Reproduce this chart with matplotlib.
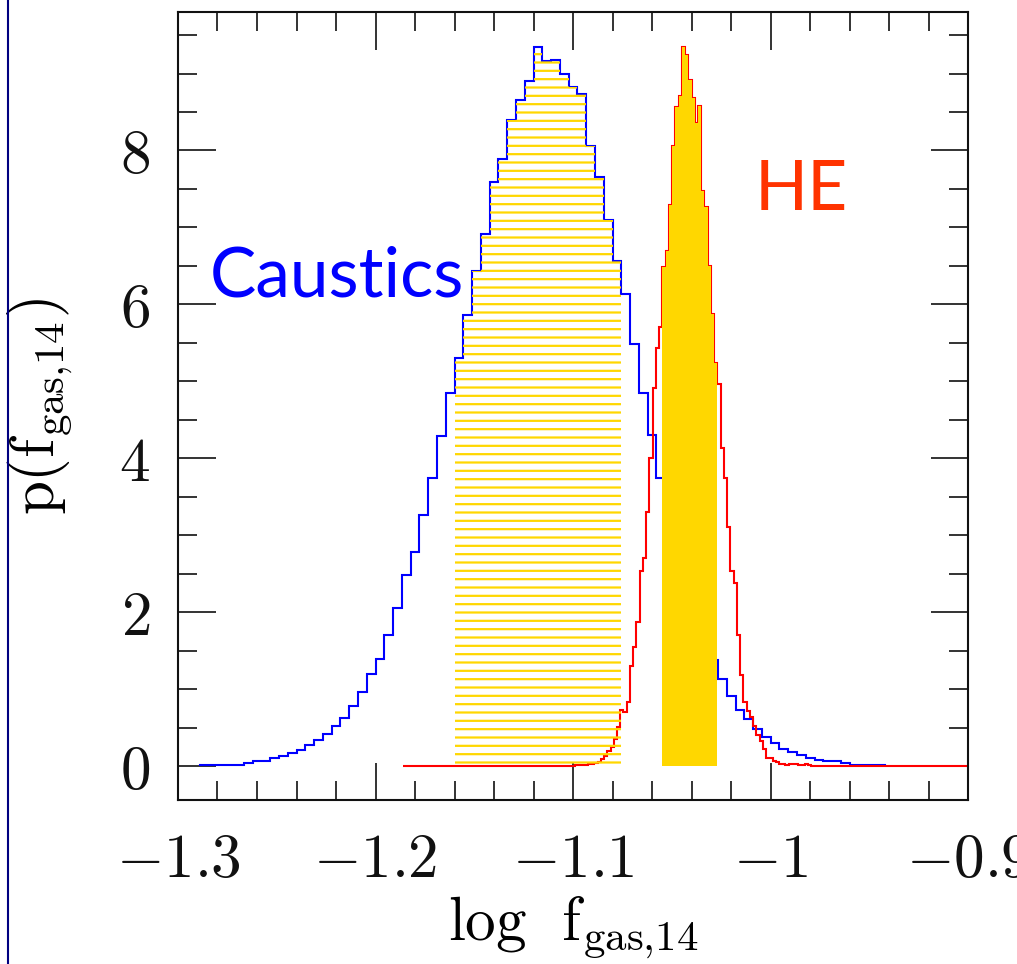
import numpy as np
import matplotlib.pyplot as plt
from matplotlib.ticker import MultipleLocator
from matplotlib.lines import Line2D

plt.rcParams['mathtext.fontset'] = 'cm'
plt.rcParams['hatch.linewidth'] = 1.6

# --- Caustics posterior (blue), equal-width bins ---
caustics_start = -1.28889
caustics_width = 0.0044444
caustics_density = [
    0.02, 0.02, 0.02, 0.02, 0.02, 0.043, 0.065, 0.065, 0.107, 0.129,
    0.17, 0.215, 0.275, 0.34, 0.42, 0.52, 0.63, 0.78, 0.97, 1.20,
    1.39, 1.71, 2.05, 2.48, 2.79, 3.26, 3.75, 4.29, 4.85, 5.30,
    5.86, 6.44, 6.91, 7.59, 7.89, 8.40, 8.66, 8.90, 9.35, 9.16,
    9.18, 8.99, 8.82, 8.74, 8.06, 7.66, 7.10, 6.56, 6.14, 5.48,
    4.85, 4.31, 3.75, 3.25, 2.80, 2.35, 1.95, 1.65, 1.38, 1.135,
    0.91, 0.73, 0.61, 0.49, 0.38, 0.30, 0.23, 0.185, 0.15, 0.107,
    0.086, 0.065, 0.065, 0.043, 0.022, 0.022, 0.022, 0.022,
]
caustics_interval = (-1.1600, -1.0756)

# --- HE posterior (red), equal-width bins ---
he_start = -1.1860
he_width = 0.00164
he_density = (
    [0.0] * 53
    + [0.02, 0.02, 0.02, 0.02, 0.03, 0.03]
    + [0.04, 0.06, 0.10, 0.13, 0.20, 0.25, 0.36, 0.51, 0.73, 0.70,
       0.84, 1.30, 1.55, 1.87, 2.54, 2.71, 3.30, 4.00, 4.91, 5.43, 5.71]
    + [6.48, 6.69, 7.29, 8.06, 8.56, 8.71, 9.35, 9.24, 8.91, 8.68,
       8.36, 8.58, 7.47, 7.26, 6.50, 5.87, 5.24]
    + [4.96, 4.13, 3.75, 3.11, 2.54, 2.38, 1.70, 1.18, 0.84, 0.72,
       0.645, 0.52, 0.40, 0.33, 0.23, 0.107, 0.107, 0.065, 0.05, 0.035,
       0.03, 0.02, 0.03, 0.03, 0.03, 0.02, 0.02, 0.03, 0.02]
    + [0.0] * 50
)
he_interval = (-1.0548, -1.0269)

x_ticks = [-1.3, -1.2, -1.1, -1.0, -0.9]
x_ticklabels = ['$-1.3$', '$-1.2$', '$-1.1$', '$-1$', '$-0.9$']
y_ticks = [0, 2, 4, 6, 8]
y_ticklabels = ['$0$', '$2$', '$4$', '$6$', '$8$']


def edges_for(start, width, n):
    return start + width * np.arange(n + 1)


def interval_part(values, edges, lo, hi):
    values = np.asarray(values)
    centers = 0.5 * (edges[:-1] + edges[1:])
    idx = np.where((centers > lo) & (centers < hi))[0]
    return values[idx], edges[idx[0]:idx[-1] + 2]


c_edges = edges_for(caustics_start, caustics_width, len(caustics_density))
h_edges = edges_for(he_start, he_width, len(he_density))

fig = plt.figure(figsize=(10.17, 9.64), dpi=100)
ax = fig.add_axes([0.175, 0.170, 0.777, 0.8176])

ax.stairs(caustics_density, c_edges, color='blue', lw=1.5, zorder=2)
ax.stairs(he_density, h_edges, color='red', lw=1.5, zorder=2)

# shaded credible regions
cv, ce = interval_part(caustics_density, c_edges, *caustics_interval)
ax.stairs(cv, ce, fill=True, facecolor='none', edgecolor='#FFD700',
          hatch='--', linewidth=0, zorder=3)
hv, he = interval_part(he_density, h_edges, *he_interval)
ax.stairs(hv, he, fill=True, color='#FFD700', linewidth=0, zorder=3)

ax.text(-1.2838, 6.10, 'Caustics', color='blue', fontsize=50,
        family='Lato', va='baseline', ha='left')
ax.text(-1.0079, 7.23, 'HE', color='#FF3300', fontsize=50,
        family='Lato', va='baseline', ha='left')

ax.set_xlim(-1.3, -0.9)
ax.set_ylim(-0.44, 9.80)
ax.set_xticks(x_ticks)
ax.set_xticklabels(x_ticklabels)
ax.set_yticks(y_ticks)
ax.set_yticklabels(y_ticklabels)
ax.xaxis.set_minor_locator(MultipleLocator(0.02))
ax.yaxis.set_minor_locator(MultipleLocator(0.5))
ax.tick_params(which='both', direction='in', top=True, right=True,
               width=1.2, colors='#111111')
ax.tick_params(which='major', length=27, labelsize=44)
ax.tick_params(which='minor', length=14)
ax.tick_params(axis='x', which='major', pad=22)
ax.tick_params(axis='y', which='major', pad=20)
for s in ax.spines.values():
    s.set_linewidth(1.5)
    s.set_color('#111111')

ax.set_xlabel(r'$\mathrm{log\ \ f_{gas{,}14}}$', fontsize=44, labelpad=4)
ax.set_ylabel(r'$\mathrm{p(f_{gas{,}14})}$', fontsize=44, labelpad=32)

fig.add_artist(Line2D([0.0074, 0.0074], [0, 1], transform=fig.transFigure,
                      color='#000080', lw=1.5))

fig.savefig('out.png', dpi=100)
